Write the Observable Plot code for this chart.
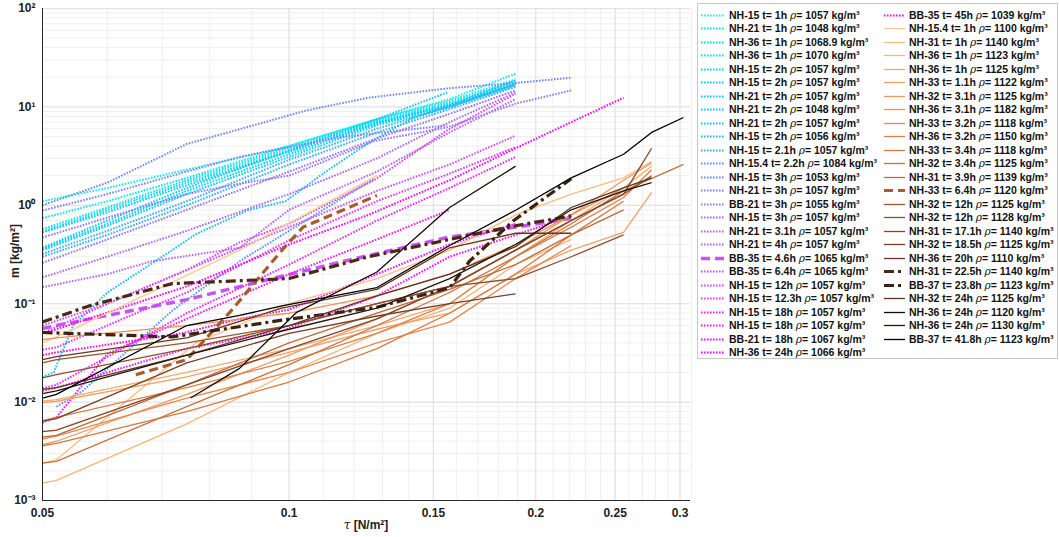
<!DOCTYPE html>
<html><head><meta charset="utf-8">
<script src="https://cdn.jsdelivr.net/npm/d3@7"></script>
<script src="https://cdn.jsdelivr.net/npm/@observablehq/plot@0.6"></script>
<style>
body{margin:0;background:#fff;font-family:"Liberation Sans",Arial,sans-serif}
#wrap{position:relative;width:1059px;height:537px;overflow:hidden}
#legend{position:absolute;left:697px;top:3px;width:361px;height:356px;border:1px solid #c8c8c8;background:#fff;box-sizing:border-box}
.item{position:absolute;height:13px;font-size:10.5px;font-weight:bold;white-space:nowrap;line-height:13px;color:#111}
.item svg{position:absolute;top:0}
.rho{font-family:"DejaVu Serif","Liberation Serif",serif;font-style:italic;font-weight:normal}
#xlabel{position:absolute;left:0;width:732px;top:518px;text-align:center;font-size:12px;font-weight:bold;color:#222}
#ylabel{position:absolute;left:-30px;top:244px;width:90px;text-align:center;font-size:12px;font-weight:bold;transform:rotate(-90deg);color:#222}
</style></head>
<body><div id="wrap"><div id="plot"></div><div id="legend"></div>
<div id="xlabel"><span class="rho">τ</span> [N/m²]</div>
<div id="ylabel">m [kg/m²]</div></div>
<script>
// ---------- tick labels ----------
const xTicks = [0.05, 0.1, 0.15, 0.2, 0.25, 0.3];
const xTickLabels = ["0.05", "0.1", "0.15", "0.2", "0.25", "0.3"];
const yTicks = [1e-3, 1e-2, 1e-1, 1e0, 1e1, 1e2];
const yTickLabels = ["10⁻³", "10⁻²", "10⁻¹", "10⁰", "10¹", "10²"];

// ---------- dotted series (left legend column + BB-35 45h) ----------
const dottedLabels = [
  ["NH-15 t= 1h", "1057"], ["NH-21 t= 1h", "1048"], ["NH-36 t= 1h", "1068.9"], ["NH-36 t= 1h", "1070"],
  ["NH-15 t= 2h", "1057"], ["NH-15 t= 2h", "1057"], ["NH-21 t= 2h", "1057"], ["NH-21 t= 2h", "1048"],
  ["NH-21 t= 2h", "1057"], ["NH-15 t= 2h", "1056"], ["NH-15 t= 2.1h", "1057"], ["NH-15.4 t= 2.2h", "1084"],
  ["NH-15 t= 3h", "1053"], ["NH-21 t= 3h", "1057"], ["BB-21 t= 3h", "1055"], ["NH-15 t= 3h", "1057"],
  ["NH-21 t= 3.1h", "1057"], ["NH-21 t= 4h", "1057"], ["BB-35 t= 4.6h", "1065"], ["BB-35 t= 6.4h", "1065"],
  ["NH-15 t= 12h", "1057"], ["NH-15 t= 12.3h", "1057"], ["NH-15 t= 18h", "1057"], ["NH-15 t= 18h", "1057"],
  ["BB-21 t= 18h", "1067"], ["NH-36 t= 24h", "1066"], ["BB-35 t= 45h", "1039"]
];
const dottedTau = [
  [0.05,0.06,0.075,0.1,0.128,0.157,0.189],
  [0.05,0.06,0.075,0.1,0.128,0.157,0.189],
  [0.05,0.06,0.075,0.1,0.128,0.157,0.189],
  [0.05,0.06,0.075,0.1,0.128,0.157,0.189],
  [0.05,0.06,0.075,0.1,0.128,0.157,0.189],
  [0.05,0.06,0.075,0.1,0.128,0.157,0.189],
  [0.05,0.06,0.075,0.1,0.128,0.157,0.189],
  [0.05,0.06,0.075,0.1,0.128,0.156],
  [0.05,0.0516,0.0545,0.06,0.07,0.077,0.089,0.099,0.11,0.125,0.142,0.189],
  [0.05,0.06,0.075,0.1,0.128,0.157,0.189],
  [0.05,0.06,0.075,0.1,0.128,0.157,0.189],
  [0.052,0.056,0.072,0.087,0.127],
  [0.05,0.06,0.075,0.105,0.125,0.157,0.189,0.221],
  [0.05,0.06,0.075,0.087,0.115,0.156],
  [0.05,0.06,0.075,0.087,0.1,0.127,0.156,0.189,0.221],
  [0.05,0.06,0.075,0.1,0.128,0.157,0.189],
  [0.05,0.06,0.075,0.1,0.128,0.157,0.189],
  [0.05,0.06,0.068,0.087,0.1,0.128,0.157,0.189],
  [0.05,0.052,0.075,0.098,0.121,0.156,0.189,0.221],
  [0.05,0.06,0.075,0.1,0.128,0.157,0.189],
  [0.05,0.06,0.075,0.087,0.1,0.127,0.156,0.189],
  [0.05,0.052,0.065,0.075,0.1,0.128,0.157,0.189],
  [0.05,0.052,0.075,0.1,0.128,0.157,0.189],
  [0.05,0.052,0.06,0.079,0.1,0.128,0.157],
  [0.05,0.052,0.075,0.098,0.128,0.157,0.189,0.221],
  [0.05,0.052,0.074,0.087,0.1,0.128,0.157,0.189],
  [0.05,0.052,0.075,0.1,0.125,0.157,0.189,0.221,0.256]
];
const dottedM = [
  [1.1,1.5,2.3,4.0,7.5,12,21.8],
  [0.74,1.1,1.9,4.0,7.5,11.5,19],
  [0.57,0.95,1.8,3.8,7.2,11,18],
  [0.54,0.9,1.7,3.6,7.0,10.5,17.5],
  [0.36,0.65,1.4,3.3,6.8,10.5,17],
  [0.35,0.62,1.3,3.1,6.5,10,16.5],
  [0.53,0.85,1.6,3.5,6.8,10.5,18.5],
  [0.37,0.7,1.5,3.6,7.5,14],
  [0.018,0.02,0.06,0.13,0.3,0.51,0.89,1.1,2.1,4.3,7.8,17],
  [0.3,0.5,1.0,2.6,5.5,9.5,16],
  [0.32,0.55,1.1,2.9,6.0,10,17],
  [0.009,0.013,0.085,0.27,1.87],
  [1.0,1.7,4.2,9.2,12.4,15.5,17.5,19.8],
  [0.885,1.3,2.2,3.1,4.9,6.5],
  [0.47,0.75,1.3,1.66,2.0,4.5,6.2,10.8,14.7],
  [0.26,0.45,0.9,2.2,4.8,8.5,14.7],
  [0.185,0.3,0.55,1.3,3.0,7,14],
  [0.147,0.2,0.27,0.37,0.9,2.2,5.5,12],
  [0.056,0.06,0.11,0.19,0.29,0.47,0.6,0.74],
  [0.06,0.1,0.22,0.6,1.4,2.6,5.1],
  [0.05,0.1,0.22,0.42,0.65,1.8,5.8,13.6],
  [0.034,0.036,0.08,0.13,0.44,1.1,2.1,3.9],
  [0.0138,0.015,0.08,0.25,0.7,1.5,3.1],
  [0.0062,0.007,0.031,0.085,0.2,0.45,0.9],
  [0.013,0.014,0.035,0.053,0.12,0.3,0.5,0.78],
  [0.03,0.032,0.05,0.07,0.087,0.2,0.4,0.65],
  [0.05,0.055,0.15,0.4,0.8,1.8,3.8,7.0,12.4]
];

// ---------- solid series (right legend column) ----------
const solidLabels = [
  ["NH-15.4 t= 1h", "1100"], ["NH-31 t= 1h", "1140"], ["NH-36 t= 1h", "1123"], ["NH-36 t= 1h", "1125"],
  ["NH-33 t= 1.1h", "1122"], ["NH-32 t= 3.1h", "1125"], ["NH-36 t= 3.1h", "1182"], ["NH-33 t= 3.2h", "1118"],
  ["NH-36 t= 3.2h", "1150"], ["NH-33 t= 3.4h", "1118"], ["NH-32 t= 3.4h", "1125"], ["NH-31 t= 3.9h", "1139"],
  ["NH-33 t= 6.4h", "1120"], ["NH-32 t= 12h", "1125"], ["NH-32 t= 12h", "1128"], ["NH-31 t= 17.1h", "1140"],
  ["NH-32 t= 18.5h", "1125"], ["NH-36 t= 20h", "1110"], ["NH-31 t= 22.5h", "1140"], ["BB-37 t= 23.8h", "1123"],
  ["NH-32 t= 24h", "1125"], ["NH-36 t= 24h", "1120"], ["NH-36 t= 24h", "1130"], ["BB-37 t= 41.8h", "1123"]
];
const solidTau = [
  [0.05,0.054,0.087,0.128],
  [0.05,0.052,0.077,0.1,0.128,0.157,0.189,0.221,0.256,0.277],
  [0.05,0.052,0.075,0.1,0.128,0.157,0.189,0.221],
  [0.05,0.052,0.075,0.1,0.128,0.157,0.189,0.221,0.256,0.277],
  [0.05,0.052,0.075,0.1,0.128,0.157,0.189,0.221,0.256,0.277],
  [0.05,0.052,0.075,0.1,0.128,0.157,0.189,0.221,0.256,0.277],
  [0.05,0.052,0.075,0.1,0.128,0.157,0.189,0.221,0.256],
  [0.05,0.052,0.075,0.1,0.128,0.157,0.189,0.221],
  [0.05,0.052,0.075,0.1,0.128,0.157,0.189,0.221,0.256,0.277],
  [0.05,0.052,0.075,0.1,0.128,0.157,0.189,0.221,0.256],
  [0.05,0.052,0.075,0.1,0.128,0.157,0.189,0.221,0.256,0.303],
  [0.05,0.052,0.075,0.1,0.128,0.157,0.189,0.221,0.256],
  [0.065,0.075,0.085,0.098,0.104,0.128],
  [0.05,0.052,0.075,0.1,0.128,0.157,0.189,0.221,0.256,0.277],
  [0.05,0.052,0.075,0.1,0.128,0.157,0.189,0.221,0.256],
  [0.05,0.052,0.075,0.1,0.128,0.157,0.189,0.221,0.256,0.277],
  [0.05,0.052,0.075,0.1,0.128,0.157,0.189],
  [0.05,0.052,0.075,0.098,0.128,0.157,0.189,0.221],
  [0.05,0.057,0.072,0.1,0.125,0.157,0.189,0.221],
  [0.05,0.072,0.098,0.128,0.157,0.166,0.188,0.221],
  [0.05,0.052,0.075,0.1,0.128,0.157,0.189,0.221,0.256,0.277],
  [0.0758,0.087,0.102,0.128,0.157,0.189],
  [0.05,0.052,0.075,0.1,0.128,0.157,0.189,0.221,0.256,0.277],
  [0.05,0.052,0.075,0.087,0.098,0.128,0.157,0.189,0.221,0.256,0.277,0.303]
];
const solidM = [
  [0.04,0.053,0.35,2.0],
  [0.0024,0.0026,0.04,0.1,0.18,0.35,0.8,1.3,1.9,2.8],
  [0.0015,0.0016,0.006,0.02,0.05,0.09,0.25,0.45],
  [0.0102,0.0106,0.02,0.035,0.06,0.1,0.3,0.7,1.5,2.5],
  [0.0098,0.0102,0.018,0.032,0.055,0.08,0.2,0.35,0.53,1.35],
  [0.0037,0.004,0.012,0.03,0.07,0.15,0.35,0.8,1.8,2.7],
  [0.043,0.045,0.06,0.08,0.12,0.2,0.4,0.8,1.5],
  [0.0042,0.0045,0.011,0.02,0.04,0.065,0.18,0.39],
  [0.0065,0.007,0.014,0.026,0.05,0.1,0.3,0.6,1.2,2.3],
  [0.0036,0.0038,0.008,0.016,0.035,0.08,0.2,0.5,1.1],
  [0.0024,0.0025,0.009,0.024,0.06,0.13,0.3,0.65,1.4,2.6],
  [0.0044,0.0046,0.015,0.04,0.08,0.14,0.25,0.5,0.9],
  [0.019,0.027,0.085,0.35,0.6,1.26],
  [0.025,0.027,0.04,0.06,0.1,0.15,0.35,0.7,1.3,2.0],
  [0.0176,0.019,0.035,0.06,0.1,0.15,0.18,0.3,0.5],
  [0.005,0.0052,0.015,0.035,0.07,0.15,0.35,0.7,1.3,3.8],
  [0.0064,0.0068,0.025,0.05,0.075,0.1,0.126],
  [0.027,0.029,0.045,0.09,0.14,0.37,0.52,0.52],
  [0.065,0.095,0.16,0.18,0.3,0.45,0.62,0.78],
  [0.051,0.046,0.068,0.092,0.145,0.27,0.7,1.86],
  [0.0135,0.014,0.03,0.06,0.12,0.2,0.38,0.95,1.5,1.9],
  [0.011,0.022,0.081,0.21,0.95,2.5],
  [0.0122,0.013,0.03,0.055,0.09,0.18,0.4,0.9,1.4,1.7],
  [0.011,0.012,0.06,0.076,0.095,0.146,0.39,0.89,1.9,3.3,5.5,7.8]
];

// ---------- styles ----------
const dottedColors = ["#0af0f0","#05e8f5","#00e2f8","#00dcfa","#00d6fc","#00d2ff","#08ccff","#10c6ff","#18beff","#28b4ff",
  "#40a8ff","#5a94ff","#7088ff","#8080ff","#9078ff","#9c70ff","#aa68fc","#b862fa","#c456f5","#cc50f5",
  "#d848f5","#e238f5","#ec28f8","#f418fa","#f810fc","#fc08fd","#ff00ff"];
const solidColors = ["#fac98c","#f9be80","#f7b475","#f5aa6c","#f3a164","#f0995d","#ec9157","#e58950","#dd814a","#d37a45",
  "#c87240","#bb6a3b","#a65c33","#9a5530","#8e4e2d","#814629","#743f25","#683721","#4b2914","#3b2211",
  "#5c331e","#150b05","#24160c","#000000"];
const solidDashed = {12: "9 5", 18: "10 4 3 4", 19: "10 4 3 4"};

function dotStyle(i){ return i === 18 ? {w: 3.5, dash: "9 5"} : {w: 2, dash: "1.6 1.4"}; }
function solidStyle(i){ return solidDashed[i] ? {w: 3.2, dash: solidDashed[i]} : {w: 1.3, dash: null}; }

// ---------- grid ----------
const minorX = d3.range(0.05, 0.3101, 0.01).map(v => +v.toFixed(2));
const minorY = [];
for (let e = -3; e < 2; e++) for (let k = 1; k <= 9; k++) minorY.push(k * Math.pow(10, e));
minorY.push(100);

const marks = [
  Plot.ruleX(minorX, {stroke: "#efefef", strokeWidth: 1}),
  Plot.ruleY(minorY, {stroke: "#efefef", strokeWidth: 1}),
  Plot.ruleX(xTicks, {stroke: "#e0e0e0", strokeWidth: 1}),
  Plot.ruleY(yTicks, {stroke: "#e0e0e0", strokeWidth: 1})
];
dottedTau.forEach((taus, i) => {
  const rows = taus.map((t, j) => ({tau: t, m: dottedM[i][j]}));
  const s = dotStyle(i);
  marks.push(Plot.line(rows, {x: "tau", y: "m", stroke: dottedColors[i], strokeWidth: s.w, strokeDasharray: s.dash, strokeLinecap: "butt"}));
});
solidTau.forEach((taus, i) => {
  const rows = taus.map((t, j) => ({tau: t, m: solidM[i][j]}));
  const s = solidStyle(i);
  marks.push(Plot.line(rows, {x: "tau", y: "m", stroke: solidColors[i], strokeWidth: s.w, strokeDasharray: s.dash, strokeLinecap: "butt"}));
});
marks.push(
  Plot.axisX({ticks: xTicks, tickSize: 0, tickPadding: 8, tickFormat: (d) => xTickLabels[xTicks.indexOf(d)], label: null, fontWeight: "bold", fontSize: 12}),
  Plot.axisY({ticks: yTicks, tickSize: 0, tickPadding: 7, tickFormat: (d) => yTickLabels[yTicks.indexOf(d)], label: null, fontWeight: "bold", fontSize: 12}),
  Plot.ruleX([0.05], {stroke: "#262626", strokeWidth: 1}),
  Plot.ruleY([1e-3], {stroke: "#262626", strokeWidth: 1})
);

const chart = Plot.plot({
  width: 1059, height: 537,
  marginLeft: 42, marginRight: 369, marginTop: 8, marginBottom: 37,
  x: {type: "log", domain: [0.05, 0.309], label: null},
  y: {type: "log", domain: [1e-3, 1e2], label: null},
  style: {fontFamily: "'Liberation Sans', Arial, sans-serif", fontSize: "12px", fontWeight: "bold", color: "#222", background: "white"},
  marks
});
document.getElementById("plot").appendChild(chart);

// ---------- legend ----------
const legend = d3.select("#legend");
function addItem(col, row, label, color, w, dash){
  const left = col === 0 ? 2 : 185;
  const sw = col === 0 ? 26 : 23;
  const top = 14 + row * 13.5 - 6.5 - 3;
  const it = legend.append("div").attr("class", "item").style("left", left + "px").style("top", top + "px");
  const svg = it.append("svg").attr("width", sw).attr("height", 13).style("left", "0px");
  svg.append("line").attr("x1", 1).attr("x2", sw - 1).attr("y1", 6.5).attr("y2", 6.5)
    .attr("stroke", color).attr("stroke-width", w).attr("stroke-dasharray", dash);
  const txt = it.append("span").style("position", "absolute").style("left", (sw + 3) + "px");
  txt.append("span").text(label[0] + " ");
  txt.append("span").attr("class", "rho").text("ρ");
  txt.append("span").text("= " + label[1] + " kg/m³");
}
dottedLabels.forEach((lab, i) => {
  const s = dotStyle(i);
  if (i < 26) addItem(0, i, lab, dottedColors[i], s.w, s.dash);
  else addItem(1, 0, lab, dottedColors[i], s.w, s.dash);
});
solidLabels.forEach((lab, i) => {
  const s = solidStyle(i);
  addItem(1, i + 1, lab, solidColors[i], s.w, s.dash);
});
</script></body></html>
